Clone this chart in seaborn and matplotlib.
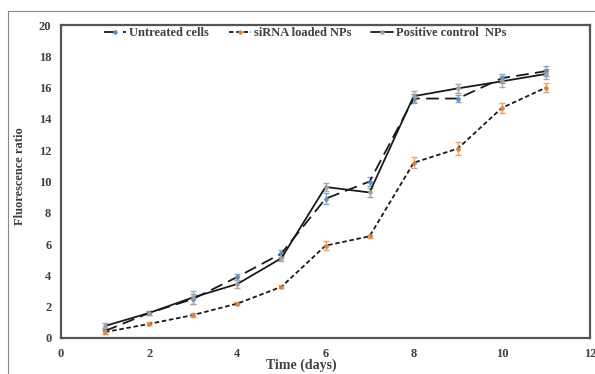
import matplotlib
matplotlib.use("Agg")
import matplotlib.pyplot as plt
import seaborn as sns
import pandas as pd
from matplotlib.lines import Line2D

days = [1, 2, 3, 4, 5, 6, 7, 8, 9, 10, 11]
untreated = [0.45, 1.6, 2.5, 3.9, 5.4, 8.9, 10.0, 15.3, 15.3, 16.6, 17.05]
untreated_err = [0.2, 0.1, 0.3, 0.2, 0.2, 0.35, 0.3, 0.3, 0.25, 0.3, 0.3]
sirna = [0.38, 0.9, 1.47, 2.2, 3.27, 5.9, 6.5, 11.2, 12.1, 14.7, 16.0]
sirna_err = [0.1, 0.1, 0.1, 0.1, 0.1, 0.3, 0.1, 0.35, 0.4, 0.3, 0.3]
positive = [0.77, 1.6, 2.6, 3.45, 5.1, 9.65, 9.3, 15.45, 15.95, 16.4, 16.87]
positive_err = [0.2, 0.1, 0.4, 0.25, 0.2, 0.25, 0.3, 0.35, 0.3, 0.35, 0.3]
labels = ["Untreated cells", "siRNA loaded NPs", "Positive control  NPs"]

sns.set_style("white")
plt.rcParams["font.family"] = ["Liberation Serif", "DejaVu Serif"]

txt = "#404040"
fig = plt.figure(figsize=(5.95, 3.74), dpi=100)
ax = fig.add_axes([61/595, 1-338/374, (590-61)/595, (338-25)/374])

series = [
    (labels[0], untreated, untreated_err, (0, (7, 3.5)), "#5b8fc0", "#7fa6cc"),
    (labels[1], sirna, sirna_err, (0, (2.5, 1.5)), "#e0843a", "#e8a070"),
    (labels[2], positive, positive_err, "-", "#a0a0a0", "#a8a8a8"),
]
for name, vals, err, ls, mcol, ecol in series:
    df = pd.DataFrame({"day": days, "val": vals})
    ax.errorbar(days, vals, yerr=err, fmt="none", ecolor=ecol, elinewidth=1,
                capsize=2.5, capthick=1, zorder=2)
    sns.lineplot(data=df, x="day", y="val", ax=ax, color="#1a1a1a",
                 linestyle=ls, linewidth=1.3, marker="o", markersize=2.5,
                 markerfacecolor=mcol, markeredgecolor=mcol, label=name, zorder=3)

ax.set_xlim(0, 12)
ax.set_ylim(0, 20)
ax.set_xticks(range(0, 13, 2))
ax.set_yticks(range(0, 21, 2))
for s in ax.spines.values():
    s.set_color("#555555")
    s.set_linewidth(1.6)
ax.tick_params(axis="both", direction="out", length=3, width=1, color="#555555",
               labelsize=9, labelcolor=txt, pad=4)
for lab in ax.get_xticklabels() + ax.get_yticklabels():
    lab.set_fontweight("bold")

ax.set_xlabel("")
ax.set_ylabel("")
fig.text(301/595, 1-365/374, "Time (days)", fontsize=10, fontweight="bold",
         color=txt, ha="center", va="center")
fig.text(20/595, 1-176/374, "Fluorescence ratio", fontsize=9, fontweight="bold",
         color=txt, ha="center", va="center", rotation=90)

leg = ax.legend(loc="center", bbox_to_anchor=(305/595, 1-33/374),
                bbox_transform=fig.transFigure, ncol=3, frameon=False,
                prop={"weight": "bold", "size": 9}, handlelength=1.8,
                handletextpad=0.2, columnspacing=1.6)
for t in leg.get_texts():
    t.set_color(txt)

fig.add_artist(Line2D([8/595, 1], [1-11/374, 1-11/374], color="#888888", lw=0.8,
                      transform=fig.transFigure))
fig.add_artist(Line2D([8/595, 8/595], [0, 1-11/374], color="#888888", lw=0.8,
                      transform=fig.transFigure))

fig.savefig("out.png", dpi=100)
